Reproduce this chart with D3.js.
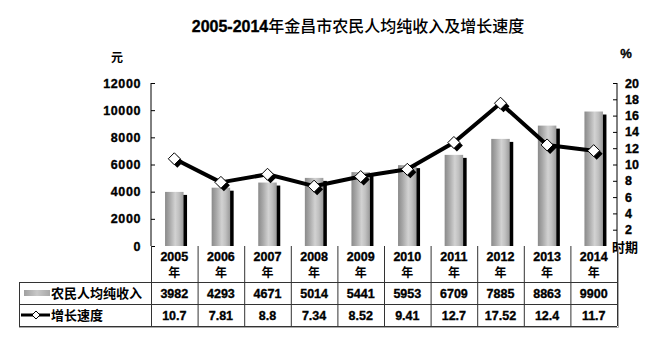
<!DOCTYPE html>
<html><head><meta charset="utf-8">
<script src="https://cdn.jsdelivr.net/npm/d3@7"></script>
<style>
body{margin:0;background:#fff;}
svg{display:block;}
text{font-family:"Liberation Sans",Arial,"Noto Sans CJK SC",sans-serif;font-weight:bold;fill:#000;}
.cjk{font-family:"Noto Sans CJK SC",sans-serif;}
.num{stroke:#000;stroke-width:0.35px;}
</style></head>
<body><svg id="c" width="653" height="346"></svg>
<script>
const years = ["2005","2006","2007","2008","2009","2010","2011","2012","2013","2014"];
const income = [3982,4293,4671,5014,5441,5953,6709,7885,8863,9900];
const growth = [10.7,7.81,8.8,7.34,8.52,9.41,12.7,17.52,12.4,11.7];
const growthLabels = ["10.7","7.81","8.8","7.34","8.52","9.41","12.7","17.52","12.4","11.7"];
const leftTicks = [0,2000,4000,6000,8000,10000,12000];
const rightTicks = [2,4,6,8,10,12,14,16,18,20];
const titleNum = "2005-2014";
const titleText = "年金昌市农民人均纯收入及增长速度";
const seriesNames = ["农民人均纯收入","增长速度"];

const svg = d3.select("#c");
const L = 151, R = 617, T = 83, B = 246;
const x = d3.scaleBand().domain(years).range([L, R]);
const yL = d3.scaleLinear().domain([0,12000]).range([B, T]);
const yR = d3.scaleLinear().domain([0,20]).range([B, T]);

const defs = svg.append("defs");
const g1 = defs.append("linearGradient").attr("id","barg").attr("x1","0").attr("x2","1").attr("y1","0").attr("y2","0");
[[0,"#8a8a8a"],[0.25,"#a8a8a8"],[0.55,"#d2d2d2"],[0.75,"#c0c0c0"],[1,"#9a9a9a"]].forEach(s=>g1.append("stop").attr("offset",s[0]).attr("stop-color",s[1]));

// title
const tt = svg.append("text").attr("x",358).attr("y",32).attr("text-anchor","middle").style("font-size","16px");
tt.append("tspan").attr("class","num").text(titleNum);
tt.append("tspan").attr("class","cjk").style("font-weight","500").text(titleText);
svg.append("text").attr("class","cjk").attr("x",117).attr("y",62).attr("text-anchor","middle").style("font-size","12px").text("元");
svg.append("text").attr("class","num").attr("x",626).attr("y",58).attr("text-anchor","middle").style("font-size","13px").text("%");

// bars
const bw = 18.5;
const bars = svg.append("g");
years.forEach((yr,i)=>{
  const cx = x(yr) + x.bandwidth()/2;
  const top = yL(income[i]);
  bars.append("rect").attr("x",cx - bw/2 + 3.5).attr("y",top+3).attr("width",bw).attr("height",B-top-3).attr("fill","#000");
  bars.append("rect").attr("x",cx - bw/2).attr("y",top).attr("width",bw).attr("height",B-top).attr("fill","url(#barg)");
});

// axes
const axL = d3.axisLeft(yL).tickValues(leftTicks).tickSize(-4).tickPadding(10).tickFormat(d3.format("d"));
const gL = svg.append("g").attr("transform",`translate(${L},0)`).call(axL);
gL.select(".domain").attr("d",`M-0,${T}V${B}`).attr("stroke","#000");
gL.selectAll("text").attr("class","num").style("font-size","12.5px").style("letter-spacing","0.6px").attr("font-family",null);
const axR = d3.axisRight(yR).tickValues(rightTicks).tickSize(-4).tickPadding(12).tickFormat(d3.format("d"));
const gR = svg.append("g").attr("transform",`translate(${R},0)`).call(axR);
gR.select(".domain").attr("d",`M0,${T}V${B}`).attr("stroke","#000");
gR.selectAll("text").attr("class","num").style("font-size","12.5px").attr("font-family",null).attr("x",8).style("text-anchor","start");
svg.append("text").attr("class","cjk").attr("x",612).attr("y",252).style("font-size","13px").text("时期");

// line
const line = d3.line().x((d,i)=>x(years[i])+x.bandwidth()/2).y(d=>yR(d));
svg.append("path").datum(growth).attr("d",line).attr("fill","none").attr("stroke","#000").attr("stroke-width",4).attr("stroke-linejoin","round");
const dia = (cx,cy,r)=>`M${cx},${cy-r}L${cx+r},${cy}L${cx},${cy+r}L${cx-r},${cy}Z`;
growth.forEach((v,i)=>{
  const cx = x(years[i])+x.bandwidth()/2, cy = yR(v);
  svg.append("path").attr("d",dia(cx+3,cy+3,6)).attr("fill","#000");
  svg.append("path").attr("d",dia(cx,cy,6)).attr("fill","#fff").attr("stroke","#000").attr("stroke-width",1);
});

// table
const tL = 19, r0 = B, r1 = 282, r2 = 304, r3 = 326;
const tg = svg.append("g");
const ln = (x1,y1,x2,y2,c="#333")=>tg.append("line").attr("x1",x1).attr("y1",y1).attr("x2",x2).attr("y2",y2).attr("stroke",c).attr("stroke-width",1);
ln(R+1.5,B,R+1.5,r3+1.5,"#aaa"); ln(tL,r3+1.5,R+1.5,r3+1.5,"#aaa");
[r1,r2,r3].forEach(yy=>ln(tL,yy+0.5,R,yy+0.5));
ln(tL+0.5,r1,tL+0.5,r3);
years.forEach((yr,i)=>{ ln(x(yr)+0.5,r0,x(yr)+0.5,r3); });
ln(R+0.5,r0,R+0.5,r3);

years.forEach((yr,i)=>{
  const cx = x(yr)+x.bandwidth()/2;
  tg.append("text").attr("class","num").attr("x",cx).attr("y",261).attr("text-anchor","middle").style("font-size","12.5px").text(yr);
  tg.append("text").attr("class","cjk").attr("x",cx).attr("y",277).attr("text-anchor","middle").style("font-size","12px").text("年");
  tg.append("text").attr("class","num").attr("x",cx).attr("y",298).attr("text-anchor","middle").style("font-size","12.5px").text(income[i]);
  tg.append("text").attr("class","num").attr("x",cx).attr("y",320).attr("text-anchor","middle").style("font-size","12.5px").text(growthLabels[i]);
});
// legend
const g2 = defs.append("linearGradient").attr("id","legg").attr("x1","0").attr("x2","1");
[[0,"#a0a0a0"],[0.5,"#c8c8c8"],[1,"#a8a8a8"]].forEach(s=>g2.append("stop").attr("offset",s[0]).attr("stop-color",s[1]));
tg.append("rect").attr("x",24).attr("y",290).attr("width",26).attr("height",6).attr("fill","url(#legg)");
tg.append("text").attr("class","cjk").attr("x",51).attr("y",298).style("font-size","13px").text(seriesNames[0]);
tg.append("line").attr("x1",21).attr("x2",50).attr("y1",315).attr("y2",315).attr("stroke","#000").attr("stroke-width",3);
tg.append("path").attr("d",dia(36,315,4)).attr("fill","#fff").attr("stroke","#000");
tg.append("text").attr("class","cjk").attr("x",51).attr("y",320).style("font-size","13px").text(seriesNames[1]);
</script></body></html>
